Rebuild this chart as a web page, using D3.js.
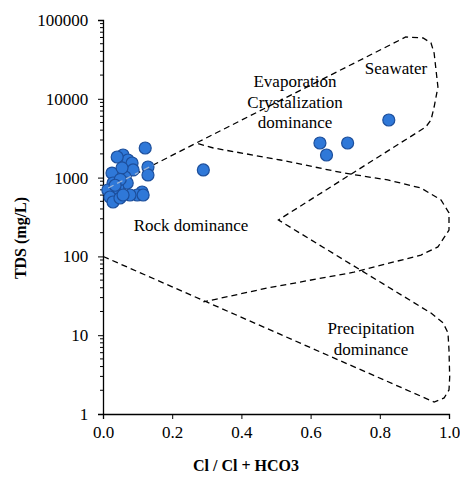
<!DOCTYPE html>
<html>
<head>
<meta charset="utf-8">
<script src="https://cdn.jsdelivr.net/npm/d3@7"></script>
<style>
  body { margin: 0; background: #fff; }
</style>
</head>
<body>
<div id="canvas"></div>
<script>
// samples: Cl/(Cl+HCO3) ratio and TDS (mg/L)
var ratio = [0.122, 0.058, 0.072, 0.041, 0.084, 0.026, 0.130, 0.130, 0.087, 0.064,
             0.055, 0.070, 0.029, 0.113, 0.099, 0.116, 0.078, 0.043, 0.035, 0.014,
             0.020, 0.029, 0.049, 0.058, 0.050, 0.035,
             0.290, 0.627, 0.707, 0.646, 0.826];
var tds = [2375, 1935, 1672, 1825, 1532, 1143, 1364, 1080, 1250, 1018,
           1330, 854, 854, 657, 601, 601, 601, 738, 657, 696,
           567, 490, 551, 601, 950, 800,
           1250, 2750, 2750, 1935, 5380];

// Gibbs boundary: outer boomerang
var outerX = [0.015, 0.281, 0.875, 0.925, 0.948, 0.957, 0.968, 0.957, 0.948, 0.933,
              0.507, 0.948, 0.983, 0.997, 1.0, 1.002, 1.0, 0.986, 0.957, 0.0];
var outerY = [738, 2913, 60800, 59100, 51100, 38100, 14100, 7870, 5380, 4390,
              290, 19.1, 14.3, 10.7, 6.5, 2.95, 2.02, 1.6, 1.42, 100];
// Gibbs boundary: inner boomerang
var innerX = [0.275, 0.319, 0.513, 0.696, 0.823, 0.919, 0.977, 1.0, 1.0, 0.968,
              0.919, 0.725, 0.475, 0.290];
var innerY = [2700, 2375, 1672, 1143, 933, 738, 520, 356, 216, 132,
              104, 63, 39.7, 26.4];

var xTicks = [0, 0.2, 0.4, 0.6, 0.8, 1.0];
var yTicks = [1, 10, 100, 1000, 10000, 100000];

var FONT = '"Liberation Serif", serif';
var W = 460, H = 480;
var m = {t:20, r:11, b:66, l:103};

var svg = d3.select('#canvas').append('svg')
    .attr('width', W).attr('height', H);

var x = d3.scaleLinear().domain([0, 1]).range([m.l, W - m.r]);
var y = d3.scaleLog().domain([1, 100000]).range([H - m.b, m.t]);

// axes
var xAxis = d3.axisBottom(x).tickValues(xTicks).tickSize(5)
    .tickFormat(d3.format('.1f'));
var gx = svg.append('g').attr('transform', 'translate(0,' + y(1) + ')').call(xAxis);
gx.selectAll('text').style('font-family', FONT).style('font-size', '17px').attr('dy', '0.95em');

var minor = [];
yTicks.slice(0, -1).forEach(function(d){
    for (var k = 2; k < 10; k++) minor.push(d * k);
});
var gy = svg.append('g').attr('transform', 'translate(' + x(0) + ',0)')
    .call(d3.axisLeft(y).tickValues(yTicks).tickSize(5).tickFormat(d3.format('d')));
gy.selectAll('text').style('font-family', FONT).style('font-size', '17px').attr('dx', '-0.4em');
gy.selectAll('.minor').data(minor).enter().append('line')
    .attr('class', 'minor')
    .attr('x1', -3).attr('x2', 0)
    .attr('y1', function(d){ return y(d); })
    .attr('y2', function(d){ return y(d); })
    .attr('stroke', '#000');
svg.selectAll('.domain').attr('stroke', '#000').attr('stroke-width', 1.3);

// axis titles
svg.append('text')
    .attr('transform', 'translate(22,238) rotate(-90)')
    .attr('text-anchor', 'middle').attr('dominant-baseline', 'middle')
    .style('font-family', FONT).style('font-size', '16px').style('font-weight', 'bold')
    .text('TDS (mg/L)');
svg.append('text')
    .attr('x', 246).attr('y', 471)
    .attr('text-anchor', 'middle')
    .style('font-family', FONT).style('font-size', '16px').style('font-weight', 'bold')
    .text('Cl / Cl + HCO3');

// boundary lines
var line = d3.line()
    .x(function(d){ return x(d[0]); })
    .y(function(d){ return y(d[1]); });
var outer = d3.zip(outerX, outerY);
var inner = d3.zip(innerX, innerY);

svg.selectAll('.bound').data([outer, inner]).enter().append('path')
    .attr('class', 'bound')
    .attr('d', line)
    .attr('fill', 'none')
    .attr('stroke', '#000')
    .attr('stroke-width', 1.3)
    .attr('stroke-dasharray', '6,4');

// sample points
var pts = d3.zip(ratio, tds);
svg.selectAll('.pt').data(pts).enter().append('circle')
    .attr('class', 'pt')
    .attr('cx', function(d){ return x(d[0]); })
    .attr('cy', function(d){ return y(d[1]); })
    .attr('r', 6)
    .attr('fill', '#2f78d8')
    .attr('stroke', '#1d4f9c')
    .attr('stroke-width', 1.2);

// faint line through the markers
var clip = svg.append('clipPath').attr('id', 'ptclip');
clip.selectAll('circle').data(pts).enter().append('circle')
    .attr('cx', function(d){ return x(d[0]); })
    .attr('cy', function(d){ return y(d[1]); })
    .attr('r', 6);
svg.append('path')
    .datum(outer)
    .attr('d', line)
    .attr('clip-path', 'url(#ptclip)')
    .attr('fill', 'none')
    .attr('stroke', '#9fb6d6')
    .attr('stroke-width', 1.3)
    .attr('stroke-dasharray', '6,4');

// zone labels
function label(lines, cx, cy){
    svg.append('text')
        .attr('x', cx).attr('y', cy)
        .attr('text-anchor', 'middle')
        .style('font-family', FONT).style('font-size', '17px')
        .selectAll('tspan').data(lines).enter().append('tspan')
        .attr('x', cx)
        .attr('dy', function(d, i){ return i ? 20.5 : 0; })
        .text(function(d){ return d; });
}
label(['Seawater'], 396, 74);
label(['Evaporation', 'Crystalization', 'dominance'], 295, 87);
label(['Rock dominance'], 191, 231);
label(['Precipitation', 'dominance'], 371, 334);
</script>
</body>
</html>
